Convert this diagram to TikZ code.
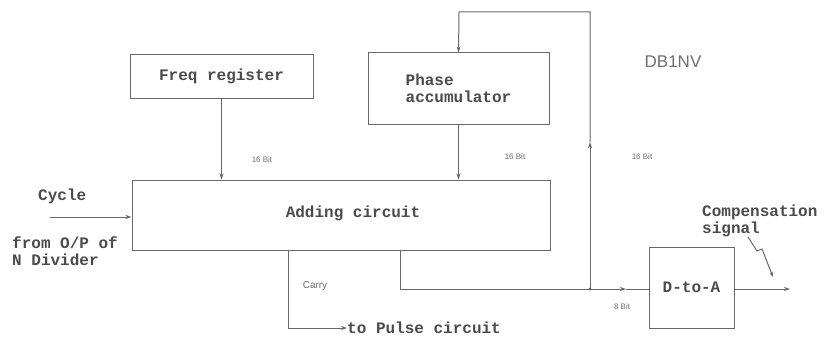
\documentclass[tikz,border=0pt]{standalone}
\usepackage{fontspec}
\setmonofont{Liberation Mono}
\setsansfont{Liberation Sans}
\usetikzlibrary{arrows.meta}
\definecolor{linec}{RGB}{105,105,105}
\definecolor{textc}{RGB}{75,75,75}
\definecolor{labc}{RGB}{110,110,110}
\tikzset{
  blk/.style={draw=linec, line width=1pt, inner sep=0pt, text=textc,
    font=\ttfamily\bfseries\fontsize{16}{17}\selectfont, align=left},
  txt/.style={inner sep=0pt, text=textc, font=\ttfamily\bfseries\fontsize{16}{17}\selectfont, align=left},
  lab/.style={inner sep=0pt, text=labc, font=\sffamily\fontsize{8}{9}\selectfont},
  wire/.style={draw=linec, line width=1pt},
  arr/.style={wire, -{Stealth[length=6pt,width=4pt]}},
}
\begin{document}
\begin{tikzpicture}[x=1pt,y=-1pt]
\useasboundingbox (0,0) rectangle (824,337);
% blocks
\node[blk, minimum width=183pt, minimum height=43pt] (freq) at (221.5,76.5) {Freq register};
\node[blk, minimum width=181pt, minimum height=71pt] (phase) at (458.5,88.5) {Phase\\accumulator};
\node[blk, minimum width=418pt, minimum height=70pt] (add) at (341,215) {};
\node[txt] (addtxt) at (353,213) {Adding circuit};
\node[blk, minimum width=85pt, minimum height=81pt] (dta) at (691.5,287.5) {D-to-A};
% texts
\node[txt, anchor=west] (cycle) at (38,196) {Cycle};
\node[txt, anchor=north west] (from) at (12,236) {from O/P of\\N Divider};
\node[txt, anchor=north west] (comp) at (702,205) {Compensation\\signal};
\node[txt, anchor=west] (pulse) at (347,328) {to Pulse circuit};
\node[inner sep=0pt, text=labc, font=\sffamily\fontsize{17}{17}\selectfont] (db) at (673,62) {DB1NV};
\node[lab] (b1) at (262,160) {16 Bit};
\node[lab] (b2) at (515,157) {16 Bit};
\node[lab] (b3) at (642,157) {16 Bit};
\node[lab] (b4) at (622,307) {8 Bit};
\node[inner sep=0pt, text=labc, font=\sffamily\fontsize{10}{11}\selectfont] (carry) at (315,286) {Carry};
% coordinates
\coordinate (cyc) at (50,217);
\coordinate (fbtop) at (590,12);
\coordinate (fbl) at (459,12);
\coordinate (mu) at (590,142);
\coordinate (jn) at (590,289);
\coordinate (bs) at (400,250);
\coordinate (ma) at (626,289);
\coordinate (cs) at (288,250);
\coordinate (out) at (790,289);
\coordinate (s1) at (748,237);
\coordinate (s2) at (757,251);
\coordinate (s3) at (762,249);
\coordinate (s4) at (773,277);
% connectors
\draw[arr] (freq.south) -- (freq.south |- add.north);
\draw[arr] (phase.south) -- (phase.south |- add.north);
\draw[arr] (cyc) -- (add.west |- cyc);
\draw[arr] (jn) -- (mu);
\draw[arr] (mu) -- (fbtop) -- (fbl) -- (phase.north);
\draw[arr] (bs) |- (ma);
\draw[wire] (ma) -- (dta.west |- ma);
\fill[linec] (jn) circle (1.6pt);
\draw[arr] (cs) |- (pulse.west);
\draw[arr] (dta.east |- out) -- (out);
\draw[wire, -{Stealth[length=5pt,width=3.5pt]}] (s1) -- (s2) -- (s3) -- (s4);
\end{tikzpicture}
\end{document}
